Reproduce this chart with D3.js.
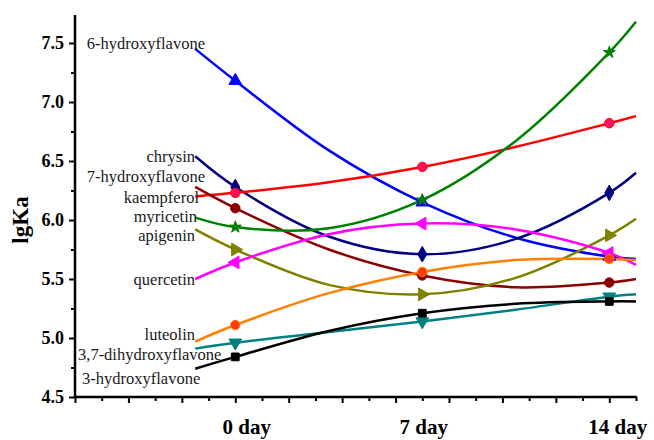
<!DOCTYPE html>
<meta charset="utf-8">
<title>lgKa of flavonoids during storage</title>
<style>
  body { margin: 0; background: #fff; }
  text { font-family: "Liberation Serif", "Times New Roman", serif; }
</style>
<svg width="654" height="440"></svg>
<script src="https://d3js.org/d3.v7.min.js"></script>
<script>

// days sampled along each fitted curve; markers sit on 0, 7 and 14
var days = [-1.5, 0, 3.5, 7, 10.5, 14, 15];
var markerDays = [0, 7, 14];
var dayLabels = ["0 day", "7 day", "14 day"];
var yTicks = [4.5, 5.0, 5.5, 6.0, 6.5, 7.0, 7.5];

var names = ["6-hydroxyflavone", "chrysin", "7-hydroxyflavone", "kaempferol", "myricetin",
  "apigenin", "quercetin", "luteolin", "3,7-dihydroxyflavone", "3-hydroxyflavone"];

// lgKa at the days above
var hydroxy6   = [7.45, 7.18, 6.59, 6.15, 5.85, 5.69, 5.67];
var chrysin    = [6.54, 6.28, 5.86, 5.71, 5.84, 6.23, 6.40];
var hydroxy7   = [6.20, 6.23, 6.32, 6.45, 6.62, 6.82, 6.88];
var kaempferol = [6.28, 6.10, 5.75, 5.53, 5.43, 5.47, 5.50];
var myricetin  = [6.02, 5.94, 5.93, 6.17, 6.67, 7.42, 7.68];
var apigenin   = [5.92, 5.75, 5.45, 5.37, 5.51, 5.87, 6.01];
var quercetin  = [5.50, 5.64, 5.88, 5.97, 5.92, 5.72, 5.62];
var luteolin   = [4.97, 5.11, 5.38, 5.56, 5.66, 5.67, 5.66];
var dihydroxy37 = [4.91, 4.96, 5.05, 5.14, 5.24, 5.35, 5.37];
var hydroxy3   = [4.74, 4.84, 5.06, 5.21, 5.29, 5.31, 5.31];

var values = [hydroxy6, chrysin, hydroxy7, kaempferol, myricetin,
  apigenin, quercetin, luteolin, dihydroxy37, hydroxy3];

// styles
var lineColors = ["#0000ff", "#000080", "#ff0000", "#8b0000", "#008000",
  "#808000", "#ff00ff", "#ff8000", "#008080", "#000000"];
var markColors = ["#0000ff", "#000080", "#ff1060", "#8b0000", "#008000",
  "#808000", "#ff00ff", "#ff3a10", "#008080", "#000000"];
var shapes = [
  [d3.symbolTriangle, 0, 70], [d3.symbolDiamond, 0, 70], [d3.symbolCircle, 0, 70], [d3.symbolCircle, 0, 70],
  [d3.symbolStar, 0, 45], [d3.symbolTriangle, 90, 70], [d3.symbolTriangle, -90, 70], [d3.symbolCircle, 0, 70],
  [d3.symbolTriangle, 180, 70], [d3.symbolSquare, 0, 60]];
// label anchor in pixels: [anchor, x, y]
var labelPos = [
  ["end", 205, 43], ["end", 195, 156], ["end", 205, 176], ["end", 199, 197], ["end", 197, 216],
  ["end", 195, 235.5], ["end", 195, 279], ["end", 195, 334], ["start", 78, 354], ["start", 82, 378]];

var svg = d3.select("svg");

var x = d3.scaleLinear().domain([-6, 15]).range([75, 636]);
var y = d3.scaleLinear().domain([4.5, 7.5]).range([397, 43]);
var yTop = y.invert(15);
y.domain([4.5, yTop]).range([397, 15]);

var line = d3.line()
    .x(function(d) { return x(d[0]); })
    .y(function(d) { return y(d[1]); })
    .curve(d3.curveCatmullRom.alpha(0.5));

var series = names.map(function(n, i) {
  return {
    name: n,
    points: days.map(function(d, j) { return [d, values[i][j]]; }),
    color: lineColors[i],
    mark: markColors[i],
    shape: shapes[i],
    label: labelPos[i]
  };
});

// axes
var allDays = d3.range(-6, 16);
svg.append("g")
    .attr("transform", "translate(0,397)")
    .call(d3.axisBottom(x).tickValues(allDays.filter(function(d) { return d % 2 !== 0; }))
      .tickSize(4).tickSizeOuter(0).tickFormat(""))
    .call(function(g) { g.select(".domain").remove(); });
svg.append("g")
    .attr("transform", "translate(0,397)")
    .call(d3.axisBottom(x).tickValues(allDays.filter(function(d) { return d % 2 === 0; }))
      .tickSize(6).tickSizeOuter(0).tickFormat(""))
    .call(function(g) { g.select(".domain").remove(); });

var xLab = svg.append("g")
    .attr("transform", "translate(0,397)")
    .call(d3.axisBottom(x).tickValues(markerDays).tickSize(0).tickPadding(22)
      .tickFormat(function(d, i) { return dayLabels[i]; }));
xLab.select(".domain").remove();
xLab.selectAll("text")
    .attr("font-size", 21).attr("font-weight", "bold").attr("fill", "#000")
    .attr("font-family", "Liberation Serif, serif")
    .attr("dx", function(d, i) { return [11, 1, 8][i]; });

var minorY = d3.range(4.75, 7.5, 0.5);
svg.append("g")
    .attr("transform", "translate(75,0)")
    .call(d3.axisLeft(y).tickValues(minorY).tickSize(4).tickSizeOuter(0).tickFormat(""))
    .call(function(g) { g.select(".domain").remove(); });
var yAx = svg.append("g")
    .attr("transform", "translate(75,0)")
    .call(d3.axisLeft(y).tickValues(yTicks).tickSize(6).tickSizeOuter(0).tickPadding(5)
      .tickFormat(d3.format(".1f")));
yAx.select(".domain").remove();
yAx.selectAll("text")
    .attr("font-size", 18).attr("font-weight", "bold").attr("fill", "#000")
    .attr("font-family", "Liberation Serif, serif");

svg.selectAll(".tick line").attr("stroke", "#000").attr("stroke-width", 2);

// axis lines
svg.append("line").attr("x1", 75).attr("x2", 75).attr("y1", y(yTop)).attr("y2", 398)
    .attr("stroke", "#000").attr("stroke-width", 2.5);
svg.append("line").attr("x1", 74).attr("x2", x(15) + 1).attr("y1", 397).attr("y2", 397)
    .attr("stroke", "#000").attr("stroke-width", 2.5);

svg.append("text")
    .attr("transform", "translate(28," + y(6.0) + ") rotate(-90)")
    .attr("text-anchor", "middle")
    .attr("font-size", 23).attr("font-weight", "bold")
    .text("lgKa");

// curves
svg.append("g").selectAll("path")
  .data(series)
  .join("path")
    .attr("fill", "none")
    .attr("stroke", function(d) { return d.color; })
    .attr("stroke-width", 2.5)
    .attr("d", function(d) { return line(d.points); });

// markers
series.forEach(function(s) {
  var sym = d3.symbol().type(s.shape[0]).size(s.shape[2]);
  svg.append("g").selectAll("path")
    .data(s.points.filter(function(p) { return markerDays.indexOf(p[0]) >= 0; }))
    .join("path")
      .attr("transform", function(p) {
        return "translate(" + x(p[0]) + "," + y(p[1]) + ") rotate(" + s.shape[1] + ")";
      })
      .attr("d", sym())
      .attr("fill", s.mark)
      .attr("stroke", s.color)
      .attr("stroke-width", 1);
});

// labels
svg.append("g").selectAll("text")
  .data(series)
  .join("text")
    .attr("x", function(d) { return d.label[1]; })
    .attr("y", function(d) { return d.label[2]; })
    .attr("dy", "0.35em")
    .attr("text-anchor", function(d) { return d.label[0]; })
    .attr("font-size", 16.5)
    .attr("fill", "#1a1a1a")
    .text(function(d) { return d.name; });

</script>
